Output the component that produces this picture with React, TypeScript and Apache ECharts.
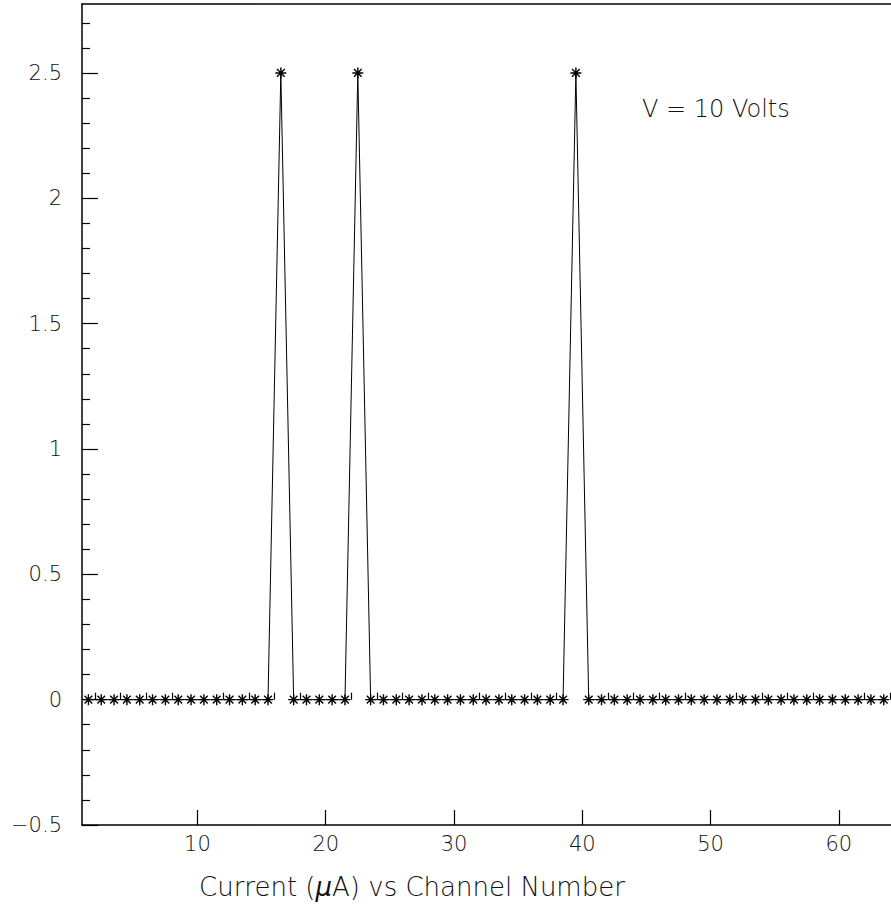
import React, { useEffect, useRef } from "react";
import * as echarts from "echarts";

const channels: number[] = [
  1.5, 2.5, 3.5, 4.5, 5.5, 6.5, 7.5, 8.5, 9.5, 10.5, 11.5, 12.5, 13.5, 14.5, 15.5,
  16.5, 17.5, 18.5, 19.5, 20.5, 21.5, 22.5, 23.5, 24.5, 25.5, 26.5, 27.5, 28.5, 29.5,
  30.5, 31.5, 32.5, 33.5, 34.5, 35.5, 36.5, 37.5, 38.5, 39.5, 40.5, 41.5, 42.5, 43.5,
  44.5, 45.5, 46.5, 47.5, 48.5, 49.5, 50.5, 51.5, 52.5, 53.5, 54.5, 55.5, 56.5, 57.5,
  58.5, 59.5, 60.5, 61.5, 62.5, 63.5,
];
const currents: number[] = [
  0, 0, 0, 0, 0, 0, 0, 0, 0, 0, 0, 0, 0, 0, 0,
  2.5, 0, 0, 0, 0, 0, 2.5, 0, 0, 0, 0, 0, 0, 0,
  0, 0, 0, 0, 0, 0, 0, 0, 0, 2.5, 0, 0, 0, 0,
  0, 0, 0, 0, 0, 0, 0, 0, 0, 0, 0, 0, 0, 0,
  0, 0, 0, 0, 0, 0,
];
const xMajorTicks: number[] = [10, 20, 30, 40, 50, 60];
const xMinorTicks: number[] = [2, 4, 6, 8, 12, 14, 16, 18, 22, 24, 26, 28, 32, 34, 36, 38, 42, 44, 46, 48, 52, 54, 56, 58, 62, 64];
const yMajorTicks: number[] = [-0.5, 0, 0.5, 1, 1.5, 2, 2.5];
const yMinorTicks: number[] = [
  -0.4, -0.3, -0.2, -0.1, 0.1, 0.2, 0.3, 0.4, 0.6, 0.7, 0.8, 0.9, 1.1, 1.2, 1.3, 1.4,
  1.6, 1.7, 1.8, 1.9, 2.1, 2.2, 2.3, 2.4, 2.6, 2.7,
];
const annotation = "V = 10 Volts";

const FONT = "DejaVu Sans";
const INK = "#111";

const starPath =
  "path://M0,5L10,5M5,0L5,10M1.5,1.5L8.5,8.5M1.5,8.5L8.5,1.5";

export default function App() {
  const ref = useRef<HTMLDivElement>(null);
  useEffect(() => {
    if (!ref.current) return;
    const chart = echarts.init(ref.current, undefined, { renderer: "svg" });
    const grid = { left: 82, top: 4, width: 821, height: 821 };
    const xCommon = { type: "value" as const, min: 1, max: 65, gridIndex: 0, splitLine: { show: false } };
    const yCommon = { type: "value" as const, min: -0.5, max: 2.775, gridIndex: 0, splitLine: { show: false } };
    chart.setOption({
      animation: false,
      backgroundColor: "#fff",
      grid,
      xAxis: [
        {
          ...xCommon,
          position: "bottom",
          axisLine: { show: true, onZero: false, lineStyle: { color: "#000", width: 1.5 } },
          axisTick: { show: true, inside: true, length: 15, customValues: xMajorTicks, lineStyle: { color: "#000", width: 1.2 } },
          axisLabel: { show: true, customValues: xMajorTicks, margin: 8, color: INK, fontFamily: FONT, fontSize: 21, fontWeight: 200 },
        },
        {
          ...xCommon,
          position: "bottom",
          axisLine: { show: false },
          axisTick: { show: true, inside: true, length: 7, customValues: xMinorTicks, lineStyle: { color: "#000", width: 1.2 } },
          axisLabel: { show: false },
        },
        {
          ...xCommon,
          position: "top",
          axisLine: { show: true, onZero: false, lineStyle: { color: "#000", width: 1.5 } },
          axisTick: { show: false },
          axisLabel: { show: false },
        },
      ],
      yAxis: [
        {
          ...yCommon,
          position: "left",
          axisLine: { show: true, onZero: false, lineStyle: { color: "#000", width: 1.5 } },
          axisTick: { show: true, inside: true, length: 16, customValues: yMajorTicks, lineStyle: { color: "#000", width: 1.2 } },
          axisLabel: {
            show: true,
            customValues: yMajorTicks,
            margin: 20,
            color: INK,
            fontFamily: FONT,
            fontSize: 21,
            fontWeight: 200,
            formatter: (v: number) => String(v).replace("-", "\u2212"),
          },
        },
        {
          ...yCommon,
          position: "left",
          axisLine: { show: false },
          axisTick: { show: true, inside: true, length: 8, customValues: yMinorTicks, lineStyle: { color: "#000", width: 1.2 } },
          axisLabel: { show: false },
        },
      ],
      series: [
        {
          type: "line",
          xAxisIndex: 0,
          yAxisIndex: 0,
          data: channels.map((c, i) => [c, currents[i]]),
          symbol: starPath,
          symbolSize: 11,
          showAllSymbol: true,
          lineStyle: { color: "#000", width: 1 },
          itemStyle: { color: "#000", borderColor: "#000", borderWidth: 1.4 },
          emphasis: { disabled: true },
        },
      ],
      graphic: [
        {
          type: "text",
          left: 642,
          top: 97,
          style: { text: annotation, fontFamily: FONT, fontSize: 24, fontWeight: 200, fill: INK },
        },
        {
          type: "text",
          left: 199,
          top: 874,
          style: {
            text: "{t|Current (}{i|\u03bc}{t|A) vs Channel Number}",
            rich: {
              t: { fontFamily: FONT, fontSize: 26, fontWeight: 200, fill: INK },
              i: { fontFamily: FONT, fontSize: 26, fontWeight: 200, fontStyle: "italic", fill: INK },
            },
          },
        },
      ],
    });
    return () => chart.dispose();
  }, []);
  return (
    <div style={{ position: "absolute", left: 0, top: 0, width: 891, height: 909, overflow: "hidden", background: "#fff" }}>
      <div ref={ref} style={{ width: 910, height: 909 }} />
    </div>
  );
}
